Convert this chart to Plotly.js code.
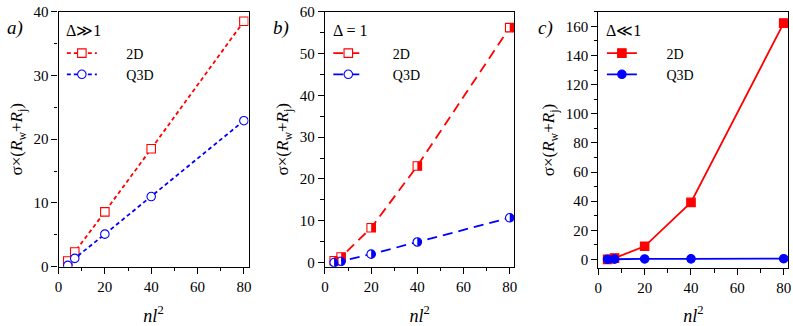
<!DOCTYPE html>
<html>
<head>
<meta charset="utf-8">
<script src="https://cdn.plot.ly/plotly-3.0.1.min.js"></script>
<style>
  html, body { margin: 0; padding: 0; background: white; }
  #chart { width: 793px; height: 326px; }
  #chart text, #chart tspan { font-family: 'Liberation Serif', 'Times New Roman', serif !important; }
</style>
</head>
<body>
<div id="chart"></div>
<script>
// nl^2 values (same for every panel)
var nl2 = [4, 7, 20, 40, 80]

// panel a) Delta >> 1
var a2D = [0.9, 2.3, 8.6, 18.5, 38.5]
var aQ3D = [0.2, 1.3, 5.1, 11.0, 22.9]

// panel b) Delta = 1
var b2D = [0.4, 1.3, 8.3, 23.1, 56.2]
var bQ3D = [0.0, 0.3, 2.0, 4.9, 10.7]

// panel c) Delta << 1
var c2D = [0.1, 1.0, 9.1, 39.2, 162.2]
var cQ3D = [0.2, 0.3, 0.4, 0.5, 0.6]

var RED = '#ff0000'
var BLUE = '#0000ff'
var FONT = 'Liberation Serif'
var SP = '\u00a0\u00a0\u00a0\u00a0\u00a0\u00a0\u00a0'   // pushes legend text to the right

function series(x, y, name, color, symbol, dash, xa, ya, legend, filled) {
    return {
        x: x, y: y, name: SP + name,
        xaxis: xa, yaxis: ya, legend: legend,
        mode: 'lines+markers',
        line: { color: color, width: 1.8, dash: dash },
        marker: {
            symbol: symbol, size: 8.5,
            color: filled ? color : 'white',
            line: { color: color, width: 1.1 }
        }
    }
}

var traces = [
    series(nl2, a2D, '2D', RED, 'square', '4px,3px', 'x', 'y', 'legend', false),
    series(nl2, aQ3D, 'Q3D', BLUE, 'circle', '4px,3px', 'x', 'y', 'legend', false),
    series(nl2, b2D, '2D', RED, 'square', '10px,6px', 'x2', 'y2', 'legend2', false),
    series(nl2, bQ3D, 'Q3D', BLUE, 'circle', '10px,6px', 'x2', 'y2', 'legend2', false),
    series(nl2, c2D, '2D', RED, 'square', 'solid', 'x3', 'y3', 'legend3', true),
    series(nl2, cQ3D, 'Q3D', BLUE, 'circle', 'solid', 'x3', 'y3', 'legend3', true)
]

// half-filled markers of panel b (right half filled)
var shapes = []
nl2.forEach(function (xv, i) {
    shapes.push({
        type: 'rect', xref: 'x2', yref: 'y2',
        xsizemode: 'pixel', ysizemode: 'pixel',
        xanchor: xv, yanchor: b2D[i],
        x0: 0, x1: 4.2, y0: -4.2, y1: 4.2,
        fillcolor: RED, line: { width: 0 }
    })
    shapes.push({
        type: 'path', xref: 'x2', yref: 'y2',
        xsizemode: 'pixel', ysizemode: 'pixel',
        xanchor: xv, yanchor: bQ3D[i],
        path: 'M0,-4.2 C2.3,-4.2 4.2,-2.3 4.2,0 C4.2,2.3 2.3,4.2 0,4.2 Z',
        fillcolor: BLUE, line: { width: 0 }
    })
})

function tickFont() { return { family: FONT, size: 15, color: 'black' } }

function xaxis(domain, anchor) {
    return {
        domain: domain, anchor: anchor, range: [0, 82],
        dtick: 20, tick0: 0,
        ticks: 'outside', ticklen: 6, tickwidth: 1, tickcolor: 'black',
        minor: { dtick: 10, ticks: 'outside', ticklen: 3.5, tickcolor: 'black' },
        showline: true, linecolor: 'black', linewidth: 1.2, mirror: true,
        showgrid: false, zeroline: false,
        tickfont: tickFont(),
        title: { text: '<i>nl</i><sup>2</sup>', font: { family: FONT, size: 18, color: 'black' }, standoff: 15 },
        automargin: false, fixedrange: true
    }
}

function yaxis(domain, anchor, range, dtick, minor) {
    return {
        domain: domain, anchor: anchor, range: range,
        dtick: dtick, tick0: 0,
        ticks: 'outside', ticklen: 6, tickwidth: 1, tickcolor: 'black',
        minor: { dtick: minor, ticks: 'outside', ticklen: 3.5, tickcolor: 'black' },
        showline: true, linecolor: 'black', linewidth: 1.2, mirror: true,
        showgrid: false, zeroline: false,
        tickfont: tickFont(),
        title: {
            text: 'σ×(<i>R</i><sub>w</sub>+<i>R</i><sub>j</sub>)',
            font: { family: FONT, size: 17, color: 'black' }, standoff: 6
        },
        automargin: false, fixedrange: true
    }
}

// inward ticks on the top and right edges
function topAxis(over, anchor, dom) {
    return {
        overlaying: over, anchor: anchor, side: 'top', domain: dom, range: [0, 82],
        dtick: 20, tick0: 0, ticks: 'inside', ticklen: 6, tickcolor: 'black',
        minor: { dtick: 10, ticks: 'inside', ticklen: 3.5, tickcolor: 'black' },
        showticklabels: false, showline: false, showgrid: false, zeroline: false,
        fixedrange: true
    }
}

function rightAxis(over, anchor, range, dtick, minor) {
    return {
        overlaying: over, anchor: anchor, side: 'right', range: range,
        dtick: dtick, tick0: 0, ticks: 'inside', ticklen: 6, tickcolor: 'black',
        minor: { dtick: minor, ticks: 'inside', ticklen: 3.5, tickcolor: 'black' },
        showticklabels: false, showline: false, showgrid: false, zeroline: false,
        fixedrange: true
    }
}

function legend(x) {
    return {
        x: x, y: 0.885, xanchor: 'left', yanchor: 'top',
        bgcolor: 'rgba(0,0,0,0)', borderwidth: 0,
        font: { family: FONT, size: 14, color: 'black' },
        tracegroupgap: 0
    }
}

function note(x, y, text, size) {
    return {
        text: text, xref: 'paper', yref: 'paper',
        x: x, y: y, xanchor: 'left', yanchor: 'middle', showarrow: false,
        font: { family: FONT, size: size, color: 'black' }
    }
}

var yDom = [0.182, 0.964]
var yDomC = [0.177, 0.964]
var xDomA = [0.0738, 0.3134]
var xDomB = [0.4098, 0.6486]
var xDomC = [0.7545, 0.9941]

var layout = {
    width: 793, height: 326,
    font: { family: FONT, size: 15, color: 'black' },
    margin: { l: 0, r: 0, t: 0, b: 0 },
    paper_bgcolor: 'white', plot_bgcolor: 'white',
    showlegend: true,
    xaxis: xaxis(xDomA, 'y'),
    yaxis: yaxis(yDom, 'x', [0, 40], 10, 5),
    xaxis2: xaxis(xDomB, 'y2'),
    yaxis2: yaxis(yDom, 'x2', [-1, 60], 10, 5),
    xaxis3: xaxis(xDomC, 'y3'),
    yaxis3: yaxis(yDomC, 'x3', [-6, 170], 20, 10),
    xaxis4: topAxis('x', 'y', xDomA),
    yaxis4: rightAxis('y', 'x', [0, 40], 10, 5),
    xaxis5: topAxis('x2', 'y2', xDomB),
    yaxis5: rightAxis('y2', 'x2', [-1, 60], 10, 5),
    xaxis6: topAxis('x3', 'y3', xDomC),
    yaxis6: rightAxis('y3', 'x3', [-6, 170], 20, 10),
    legend: legend(0.078),
    legend2: legend(0.414),
    legend3: legend(0.759),
    shapes: shapes,
    annotations: [
        note(0.006, 0.915, '<i>a)</i>', 19),
        note(0.342, 0.915, '<i>b)</i>', 19),
        note(0.676, 0.915, '<i>c)</i>', 19),
        note(0.081, 0.905, 'Δ≫1', 16),
        note(0.417, 0.905, 'Δ = 1', 16),
        note(0.762, 0.905, 'Δ≪1', 16)
    ]
}

Plotly.newPlot('chart', traces, layout, { displayModeBar: false })
</script>
</body>
</html>
